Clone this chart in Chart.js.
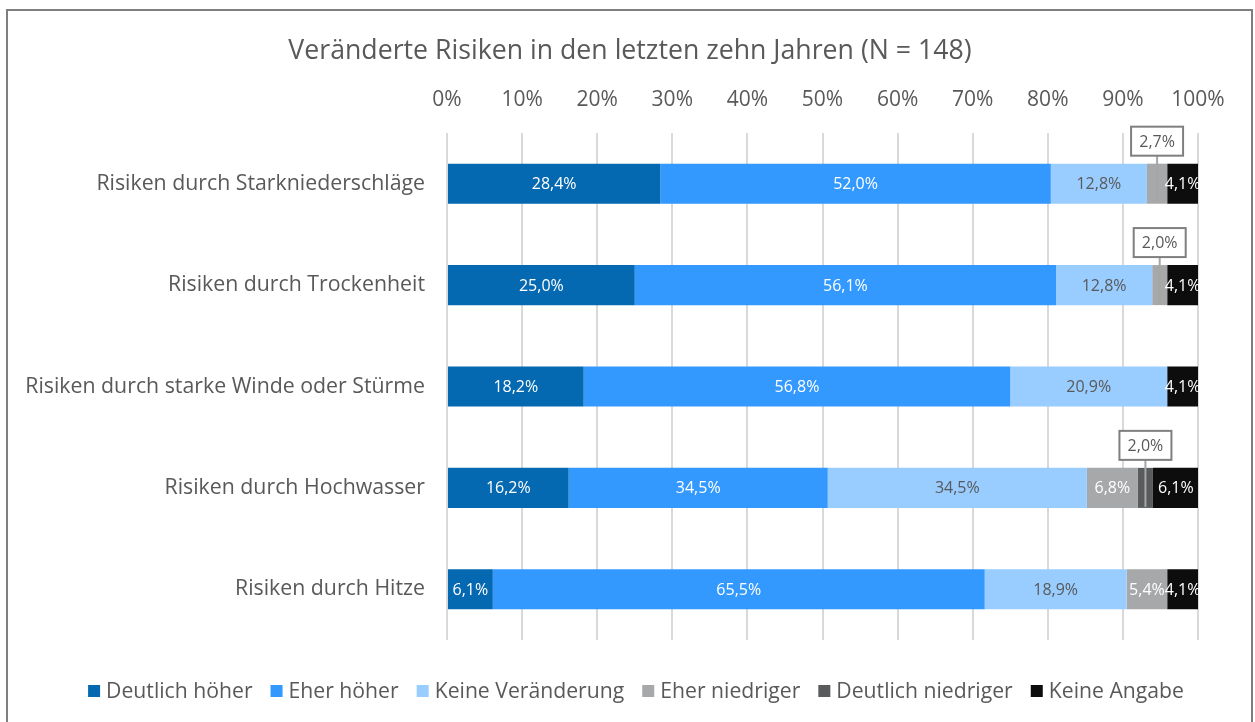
<!DOCTYPE html>
<html>
<head>
<meta charset="utf-8">
<script src="https://cdn.jsdelivr.net/npm/chart.js@4.4.1/dist/chart.umd.min.js"></script>
<style>
  html, body { margin: 0; padding: 0; background: #fff; }
  #wrap { position: relative; width: 1255px; height: 722px; }
  canvas { display: block; }
</style>
</head>
<body>
<div id="wrap"><canvas id="c" width="1255" height="722"></canvas></div>
<script>
const categories = [
  "Risiken durch Starkniederschläge",
  "Risiken durch Trockenheit",
  "Risiken durch starke Winde oder Stürme",
  "Risiken durch Hochwasser",
  "Risiken durch Hitze"
];
const seriesNames = ["Deutlich höher", "Eher höher", "Keine Veränderung", "Eher niedriger", "Deutlich niedriger", "Keine Angabe"];
const deutlichHoeher   = [28.4, 25.0, 18.2, 16.2, 6.1];
const eherHoeher       = [52.0, 56.1, 56.8, 34.5, 65.5];
const keineVeraenderung= [12.8, 12.8, 20.9, 34.5, 18.9];
const eherNiedriger    = [2.7, 2.0, 0, 6.8, 5.4];
const deutlichNiedriger= [0, 0, 0, 2.0, 0];
const keineAngabe      = [4.1, 4.1, 4.1, 6.1, 4.1];
const tickValues = [0, 10, 20, 30, 40, 50, 60, 70, 80, 90, 100];
const title = "Veränderte Risiken in den letzten zehn Jahren (N = 148)";

const colors = ["#0569b1", "#3399ff", "#99ccff", "#a6a8a9", "#595b5c", "#0d0d0d"];
const labelColors = ["#ffffff", "#ffffff", "#595959", "#ffffff", "#ffffff", "#ffffff"];
const allSeries = [deutlichHoeher, eherHoeher, keineVeraenderung, eherNiedriger, deutlichNiedriger, keineAngabe];
const FONT = "'Open Sans', 'Noto Sans', sans-serif";
const TXT = "#595959";

function fmt(v) { return v.toFixed(1).replace('.', ',') + '%'; }

const frameAndLabels = {
  id: 'frameAndLabels',
  beforeDraw(chart) {
    const ctx = chart.ctx;
    ctx.save();
    ctx.strokeStyle = '#7f7f7f';
    ctx.lineWidth = 2;
    ctx.beginPath();
    ctx.moveTo(7, 730);
    ctx.lineTo(7, 10);
    ctx.lineTo(1252, 10);
    ctx.lineTo(1252, 730);
    ctx.stroke();
    // title
    ctx.font = "26.7px " + FONT;
    ctx.fillStyle = TXT;
    ctx.textAlign = 'center';
    ctx.textBaseline = 'middle';
    ctx.fillText(title, 630, 51);
    ctx.restore();
  },
  afterDatasetsDraw(chart) {
    const ctx = chart.ctx;
    ctx.save();
    ctx.font = "16px " + FONT;
    ctx.textAlign = 'center';
    ctx.textBaseline = 'middle';
    chart.data.datasets.forEach((ds, di) => {
      const meta = chart.getDatasetMeta(di);
      meta.data.forEach((bar, i) => {
        const v = ds.data[i];
        if (!v) return;
        const left = Math.min(bar.x, bar.base), right = Math.max(bar.x, bar.base);
        const cx = (left + right) / 2;
        const cy = bar.y;
        const h = bar.height;
        if (v >= 3) {
          ctx.fillStyle = labelColors[di];
          ctx.fillText(fmt(v), cx, cy + 1);
        } else {
          const bw = 52, bh = 29;
          const top = cy - h / 2 - 8 - bh;
          ctx.strokeStyle = '#a6a6a6';
          ctx.lineWidth = 2;
          ctx.beginPath();
          ctx.moveTo(cx, top + bh);
          ctx.lineTo(cx, cy + h / 2 - 1);
          ctx.stroke();
          ctx.fillStyle = '#ffffff';
          ctx.fillRect(cx - bw / 2, top, bw, bh);
          ctx.strokeStyle = '#7f7f7f';
          ctx.strokeRect(cx - bw / 2, top, bw, bh);
          ctx.fillStyle = TXT;
          ctx.fillText(fmt(v), cx, top + bh / 2 + 1);
        }
      });
    });
    ctx.restore();
  },
  afterDraw(chart) {
    // legend
    const ctx = chart.ctx;
    ctx.save();
    ctx.font = "21.2px " + FONT;
    ctx.textBaseline = 'middle';
    ctx.textAlign = 'left';
    const box = 12, gapBox = 6, gapItem = 18;
    const widths = seriesNames.map(n => ctx.measureText(n).width);
    const total = widths.reduce((a, w) => a + box + gapBox + w, 0) + gapItem * (seriesNames.length - 1);
    let x = 636 - total / 2;
    const y = 691;
    seriesNames.forEach((n, k) => {
      ctx.fillStyle = colors[k];
      ctx.fillRect(x, y - box / 2, box, box);
      x += box + gapBox;
      ctx.fillStyle = TXT;
      ctx.fillText(n, x, y + 1);
      x += widths[k] + gapItem;
    });
    ctx.restore();
  }
};

new Chart(document.getElementById('c'), {
  type: 'bar',
  data: {
    labels: categories,
    datasets: seriesNames.map((n, k) => ({
      label: n,
      data: allSeries[k],
      backgroundColor: colors[k],
      borderWidth: 0,
      barPercentage: 0.395,
      categoryPercentage: 1.0
    }))
  },
  options: {
    indexAxis: 'y',
    responsive: false,
    animation: false,
    devicePixelRatio: 1,
    layout: { padding: { left: 0, right: 57, top: 88, bottom: 82 } },
    plugins: {
      tooltip: { enabled: false },
      legend: { display: false },
      title: { display: false }
    },
    scales: {
      x: {
        position: 'top',
        stacked: true,
        min: 0,
        max: 100,
        afterBuildTicks(scale) { scale.ticks = tickValues.map(v => ({ value: v })); },
        afterFit(scale) { scale.height = 45; },
        ticks: {
          color: TXT,
          font: { family: FONT, size: 21 },
          padding: 20,
          callback: v => v + '%'
        },
        grid: { color: '#d9d9d9', lineWidth: 2, drawTicks: false },
        border: { display: false }
      },
      y: {
        stacked: true,
        afterFit(scale) { scale.width = 447; },
        ticks: {
          color: TXT,
          font: { family: FONT, size: 21.3 },
          padding: 22
        },
        grid: { display: false, drawTicks: false },
        border: { display: false }
      }
    }
  },
  plugins: [frameAndLabels]
});
</script>
</body>
</html>
